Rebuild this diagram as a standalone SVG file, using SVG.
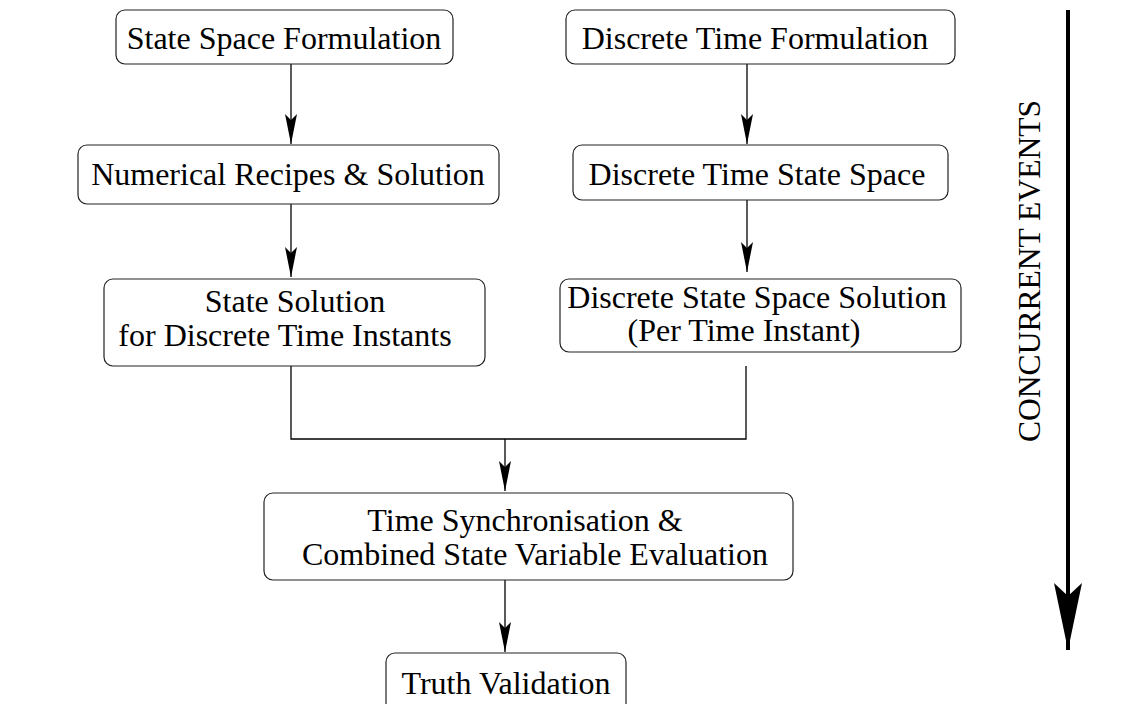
<svg xmlns="http://www.w3.org/2000/svg" width="1144" height="704" viewBox="0 0 1144 704">
<style>
.box{fill:#fff;stroke:#222;stroke-width:1.2}
.t{font-family:"Liberation Serif","Times New Roman",serif;font-size:32px;fill:#000;text-anchor:middle}
.c{fill:none;stroke:#000;stroke-width:1.3}
</style>
<defs>
<marker id="ah" markerUnits="userSpaceOnUse" viewBox="-31 -7 32 14" markerWidth="32" markerHeight="14" refX="0" refY="0" orient="auto">
<path d="M0,0 L-30,-6 L-24,0 L-30,6 Z" fill="#000"/>
</marker>
<marker id="big" markerUnits="userSpaceOnUse" viewBox="-68 -15 70 30" markerWidth="70" markerHeight="30" refX="0" refY="0" orient="auto">
<path d="M0,0 L-67,-14 L-54,0 L-67,14 Z" fill="#000"/>
</marker>
</defs>
<rect width="1144" height="704" fill="#fff"/>
<g id="connectors">
<path class="c" d="M291,64 V144" marker-end="url(#ah)"/>
<path class="c" d="M747,64 V144" marker-end="url(#ah)"/>
<path class="c" d="M291,204 V277" marker-end="url(#ah)"/>
<path class="c" d="M747,200 V272" marker-end="url(#ah)"/>
<path class="c" d="M291,366 V439 H746 V366"/>
<path class="c" d="M505,439 V491" marker-end="url(#ah)"/>
<path class="c" d="M505,580 V652" marker-end="url(#ah)"/>
<path d="M1068,10 V650" fill="none" stroke="#000" stroke-width="4" marker-end="url(#big)"/>
</g>
<g id="n1"><rect class="box" x="116" y="10" width="337" height="54" rx="9"/><text class="t" x="284" y="49">State Space Formulation</text></g>
<g id="n2"><rect class="box" x="78" y="145" width="421" height="59" rx="9"/><text class="t" x="288" y="185">Numerical Recipes &amp; Solution</text></g>
<g id="n3"><rect class="box" x="566" y="10" width="389" height="54" rx="9"/><text class="t" x="755" y="49">Discrete Time Formulation</text></g>
<g id="n4"><rect class="box" x="573" y="145" width="375" height="55" rx="9"/><text class="t" x="757" y="185">Discrete Time State Space</text></g>
<g id="n5"><rect class="box" x="104" y="279" width="381" height="87" rx="9"/><text class="t" x="295" y="312">State Solution</text><text class="t" x="285" y="346">for Discrete Time Instants</text></g>
<g id="n6"><rect class="box" x="560" y="279" width="401" height="73" rx="9"/><text class="t" x="757" y="308">Discrete State Space Solution</text><text class="t" x="744" y="341">(Per Time Instant)</text></g>
<g id="n7"><rect class="box" x="264" y="493" width="529" height="87" rx="9"/><text class="t" x="525" y="531">Time Synchronisation &amp;</text><text class="t" x="535" y="565">Combined State Variable Evaluation</text></g>
<g id="n8"><rect class="box" x="386" y="653" width="240" height="60" rx="9"/><text class="t" x="506" y="694">Truth Validation</text></g>
<g id="label"><text class="t" transform="translate(1040,271) rotate(-90)" textLength="342" lengthAdjust="spacingAndGlyphs">CONCURRENT EVENTS</text></g>
</svg>
